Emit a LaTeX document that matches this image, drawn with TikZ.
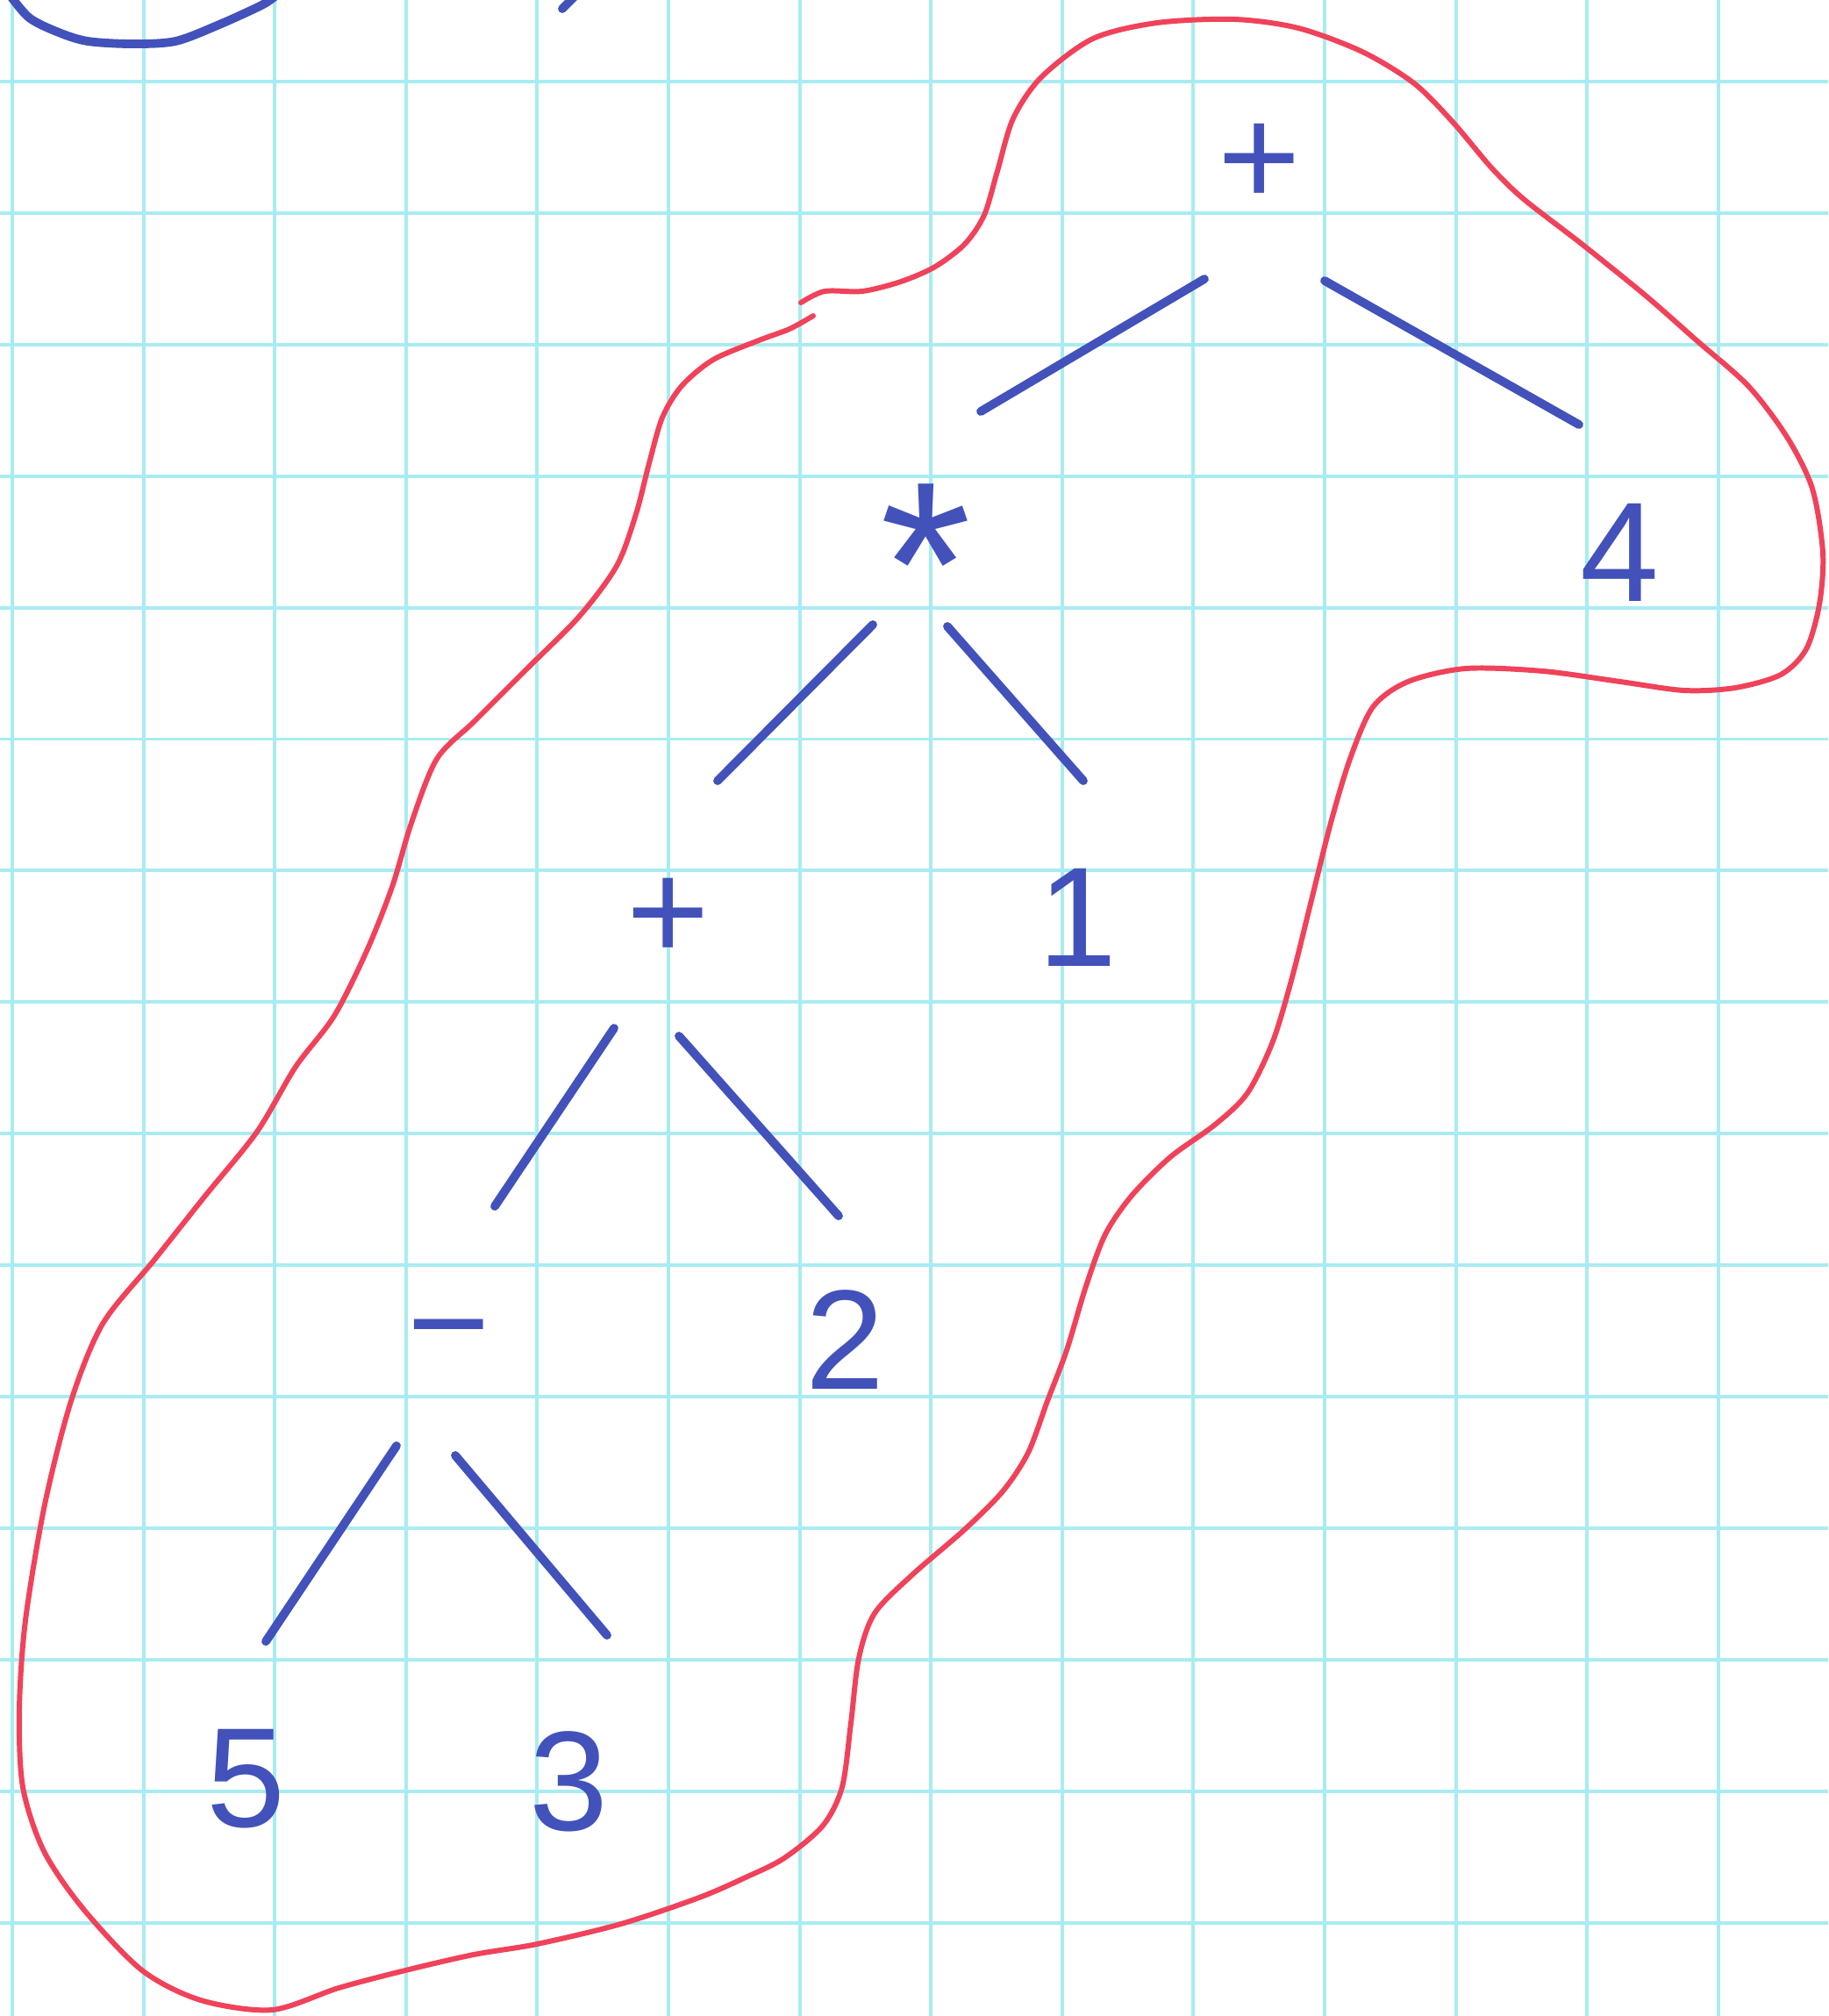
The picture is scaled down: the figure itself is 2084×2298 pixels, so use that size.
\documentclass[tikz,border=0pt]{standalone}
\usepackage{fontspec}
\setmainfont{Liberation Sans}
\definecolor{inkblue}{RGB}{66,82,186}
\definecolor{penred}{RGB}{240,66,90}
\definecolor{gridcyan}{RGB}{168,236,242}
\tikzset{
  sym/.style={text=inkblue, font=\fontsize{46}{46}\selectfont, inner sep=0pt},
  branch/.style={draw=inkblue, line width=2.8pt, line cap=round},
  blob/.style={draw=penred, line width=1.7pt, line cap=round},
  paper/.style={draw=gridcyan, line width=1.1pt}
}
\begin{document}
\begin{tikzpicture}[x=0.1mm, y=-0.1mm]
  \fill[white] (0,0) rectangle (2084,2298);
  \useasboundingbox (0,0) rectangle (2084,2298);
  % squared paper
  \foreach \i in {0,...,13}
    \draw[paper] ({14+149.6*\i},0) -- ({14+149.6*\i},2298);
  \foreach \j in {0,...,14}
    \draw[paper] (0,{93+149.9*\j}) -- (2084,{93+149.9*\j});

  % leftovers of another drawing at the top
  \draw[branch] plot[smooth] coordinates {(8,-10) (33,20) (67,37) (100,47) (150,50) (200,47) (250,28) (300,5) (318,-8)};
  \draw[branch] (655,-4) -- (641,10);

  % the tree
  \node[sym] (root)  at (1436,188)  {+};
  \node[sym, font=\fontsize{76}{76}\selectfont] (mul) at (1055,644) {*};
  \node[sym] (four)  at (1846,630)  {4};
  \node[sym] (plus)  at (762,1048)  {+};
  \node[sym] (one)   at (1228,1046) {1};
  \node[sym] (minus) at (512,1534)  {−};
  \node[sym] (two)   at (963,1527)  {2};
  \node[sym] (five)  at (280,2028)  {5};
  \node[sym] (three) at (648,2031)  {3};

  \draw[branch] ([shift={(-63,130)}]root.center) -- ([shift={(63,-175)}]mul.center);
  \draw[branch] ([shift={(74,132)}]root.center) -- ([shift={(-46,-146)}]four.center);
  \draw[branch] ([shift={(-60,68)}]mul.center) -- ([shift={(56,-158)}]plus.center);
  \draw[branch] ([shift={(25,70)}]mul.center) -- ([shift={(7,-156)}]one.center);
  \draw[branch] ([shift={(-62,124)}]plus.center) -- ([shift={(52,-159)}]minus.center);
  \draw[branch] ([shift={(12,133)}]plus.center) -- ([shift={(-7,-141)}]two.center);
  \draw[branch] ([shift={(-60,114)}]minus.center) -- ([shift={(23,-157)}]five.center);
  \draw[branch] ([shift={(7,125)}]minus.center) -- ([shift={(44,-167)}]three.center);

  % red loop round the subtree
  \draw[blob] plot[smooth] coordinates {
    (913,345) (940,332) (983,332) (1027,321) (1066,304) (1100,278) (1122,245)
    (1137,195) (1155,135) (1187,88) (1246,44) (1319,26) (1407,22) (1480,32)
    (1553,59) (1612,95) (1656,139) (1700,191) (1737,227) (1803,278) (1876,337)
    (1934,388) (1993,440) (2037,498) (2066,557) (2078,630) (2074,689) (2059,740)
    (2030,769) (1978,784) (1920,787) (1847,777) (1759,765) (1671,762) (1605,777)
    (1565,806) (1539,865) (1517,938) (1495,1026) (1473,1114) (1451,1187)
    (1422,1246) (1385,1282) (1334,1319) (1290,1363) (1260,1407) (1238,1466)
    (1216,1539) (1194,1597) (1172,1656) (1143,1700) (1099,1744) (1040,1795)
    (997,1839) (979,1890) (970,1964) (960,2037) (938,2081) (894,2118)
    (850,2140) (797,2163) (708,2193) (612,2216) (540,2228) (462,2246)
    (386,2266) (310,2291) (229,2280) (162,2246) (95,2176) (50,2110)
    (26,2037) (22,1949) (29,1847) (51,1715) (81,1597) (117,1509) (176,1436)
    (234,1363) (293,1290) (337,1216) (381,1158) (418,1084) (447,1011)
    (469,938) (498,865) (542,821) (601,762) (660,703) (703,645) (725,586)
    (740,528) (755,476) (777,440) (813,410) (865,388) (900,375) (927,360)};
\end{tikzpicture}
\end{document}
